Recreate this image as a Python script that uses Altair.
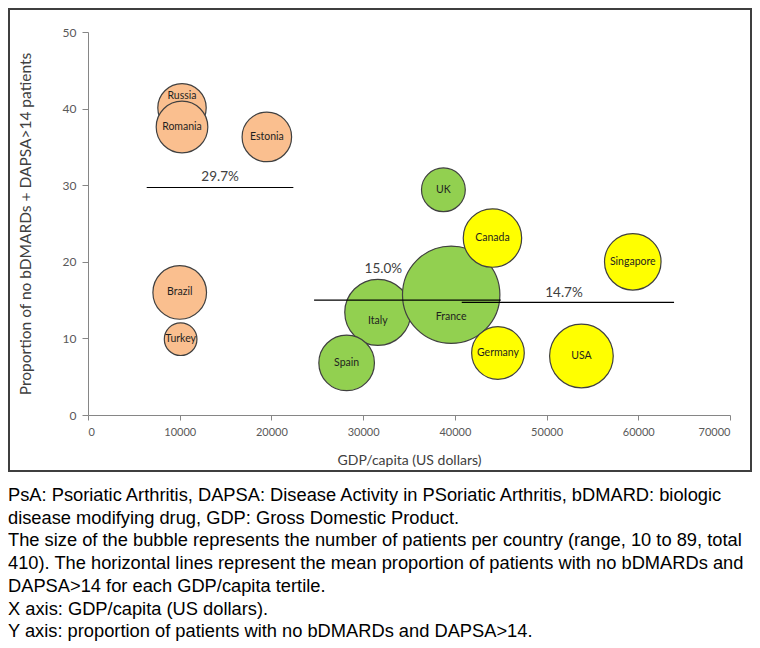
import altair as alt
import pandas as pd

# ---------------- data ----------------
countries = ["Russia", "Romania", "Estonia", "Brazil", "Turkey", "UK", "Italy",
             "France", "Spain", "Canada", "Germany", "Singapore", "USA"]
gdp = [10250, 10250, 19500, 10000, 10100, 38750, 31600, 39600, 28200, 44100,
       44700, 59400, 53800]
proportion = [40.1, 37.6, 36.3, 16.0, 9.9, 29.4, 13.4, 15.7, 6.8, 23.1, 8.1,
              20.0, 7.7]
patients = [22, 25, 23, 27, 10, 18, 41, 89, 29, 32, 26, 30, 38]
tertile = ["Low", "Low", "Low", "Low", "Low", "Middle", "Middle", "Middle",
           "Middle", "High", "High", "High", "High"]

tertile_names = ["Low", "Middle", "High"]
tertile_colors = ["#FABF8F", "#92D050", "#FFFF00"]

mean_values = [29.7, 15.0, 14.7]
mean_labels = ["29.7%", "15.0%", "14.7%"]
mean_start = [6400, 24650, 40750]
mean_end = [22390, 45000, 63900]
mean_label_x = [14400, 32200, 51900]

caption_lines = [
    "PsA: Psoriatic Arthritis, DAPSA: Disease Activity in PSoriatic Arthritis, bDMARD: biologic",
    "disease modifying drug, GDP: Gross Domestic Product.",
    "The size of the bubble represents the number of patients per country (range, 10 to 89, total",
    "410). The horizontal lines represent the mean proportion of patients with no bDMARDs and",
    "DAPSA>14 for each GDP/capita tertile.",
    "X axis: GDP/capita (US dollars).",
    "Y axis: proportion of patients with no bDMARDs and DAPSA>14.",
]

# ---------------- tables ----------------
bubbles = pd.DataFrame({"country": countries, "gdp": gdp, "prop": proportion,
                        "n": patients, "tertile": tertile})
means = pd.DataFrame({"mean": mean_values, "label": mean_labels,
                      "x1": mean_start, "x2": mean_end, "lx": mean_label_x})

W, H = 642, 383
FONT = "Lato"

xscale = alt.Scale(domain=[0, 70000], nice=False, zero=True)
yscale = alt.Scale(domain=[0, 50], nice=False)

x_enc = alt.X("gdp:Q", scale=xscale,
              axis=alt.Axis(values=list(range(0, 70001, 10000)), format="d",
                            title="GDP/capita (US dollars)", grid=False,
                            labelFont=FONT, labelFontSize=11, labelColor="#595959",
                            tickColor="#868686", domainColor="#868686",
                            tickSize=5, labelPadding=6,
                            titleFont=FONT, titleFontSize=14, titleFontWeight="normal",
                            titleColor="#404040", titlePadding=16))
y_enc = alt.Y("prop:Q", scale=yscale,
              axis=alt.Axis(values=list(range(0, 51, 10)),
                            title="Proportion of no bDMARDs + DAPSA>14 patients",
                            grid=False, labelFont=FONT, labelFontSize=12,
                            labelColor="#595959", tickColor="#868686",
                            domainColor="#868686", tickSize=6, labelPadding=6,
                            titleFont=FONT, titleFontSize=15.5,
                            titleFontWeight="normal", titleColor="#404040",
                            titlePadding=29))

# Vega circle symbol: radius = sqrt(size) / 2
max_r = 48.7
circles = alt.Chart(bubbles).mark_circle(
    opacity=1, stroke="#404040", strokeWidth=1.2
).encode(
    x=x_enc, y=y_enc,
    size=alt.Size("n:Q", scale=alt.Scale(domain=[0, 89], nice=False, zero=True,
                                         range=[0, 4 * max_r ** 2]),
                  legend=None),
    color=alt.Color("tertile:N", scale=alt.Scale(domain=tertile_names,
                                                 range=tertile_colors),
                    legend=None),
)

# country labels (some nudged so they stay readable)
label_dy = {"Russia": -12, "Italy": 9, "France": 22}
label_layers = []
plain = [c for c in countries if c not in label_dy]
label_layers.append(
    alt.Chart(bubbles).transform_filter(
        alt.FieldOneOfPredicate(field="country", oneOf=plain)
    ).mark_text(font=FONT, fontSize=10.5, color="#1f1f1f", baseline="middle")
    .encode(x=alt.X("gdp:Q", scale=xscale), y=alt.Y("prop:Q", scale=yscale),
            text="country:N"))
for c, dy in label_dy.items():
    label_layers.append(
        alt.Chart(bubbles).transform_filter(alt.datum.country == c)
        .mark_text(font=FONT, fontSize=10.5, color="#1f1f1f",
                   baseline="middle", dy=dy)
        .encode(x=alt.X("gdp:Q", scale=xscale), y=alt.Y("prop:Q", scale=yscale),
                text="country:N"))

rules = alt.Chart(means).mark_rule(color="#000000", strokeWidth=1.2).encode(
    x=alt.X("x1:Q", scale=xscale), x2="x2:Q",
    y=alt.Y("mean:Q", scale=yscale))

mean_dy = [-10, -31, -9]
mean_text_layers = []
for lab, dy in zip(mean_labels, mean_dy):
    mean_text_layers.append(
        alt.Chart(means).transform_filter(alt.datum.label == lab)
        .mark_text(font=FONT, fontSize=13.5, color="#404040",
                   baseline="middle", dy=dy)
        .encode(x=alt.X("lx:Q", scale=xscale), y=alt.Y("mean:Q", scale=yscale),
                text="label:N"))

one = pd.DataFrame({"a": [0]})
border = alt.Chart(one).mark_rect(fill="transparent", stroke="#3f3f3f",
                                  strokeWidth=2).encode(
    x=alt.value(-79), x2=alt.value(663), y=alt.value(-23), y2=alt.value(439))

caption = alt.Chart(one).mark_text(
    text=caption_lines, font="Liberation Sans", fontSize=18.3, lineHeight=22.7,
    align="left", baseline="alphabetic", color="#000000"
).encode(x=alt.value(-80), y=alt.value(469))

chart = alt.layer(
    border, circles, *label_layers, rules, *mean_text_layers, caption
).properties(
    width=W, height=H,
    autosize=alt.AutoSizeParams(type="none"),
    padding={"left": 80, "top": 24, "right": 22, "bottom": 229},
    background="white",
).configure_view(stroke=None)

chart.save("out.html", embed_options={"renderer": "svg", "actions": False})
